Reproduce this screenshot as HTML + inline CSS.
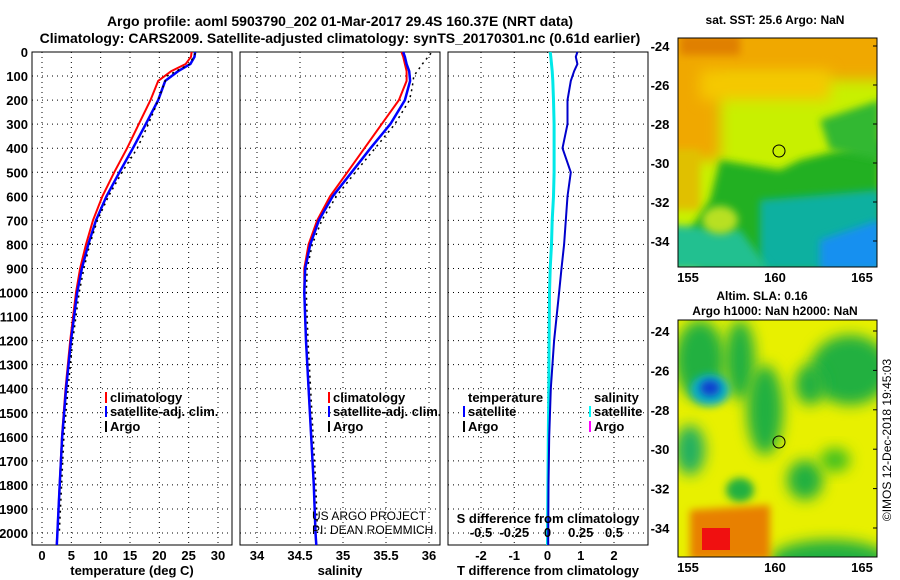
<!DOCTYPE html>
<html><head><meta charset="utf-8"><style>
html,body{margin:0;padding:0;background:#fff;}
svg{display:block;font-family:"Liberation Sans",sans-serif;}
text{font-weight:bold;font-size:13px;fill:#000;}
</style></head><body>
<svg id="svg" width="900" height="580" viewBox="0 0 900 580" xmlns="http://www.w3.org/2000/svg">
<defs>
<filter id="bl" x="-50%" y="-50%" width="200%" height="200%"><feGaussianBlur stdDeviation="7"/></filter>
<filter id="bl2" x="-50%" y="-50%" width="200%" height="200%"><feGaussianBlur stdDeviation="4"/></filter>
<clipPath id="c1"><rect x="678" y="38" width="199" height="229"/></clipPath>
<clipPath id="c2"><rect x="678" y="320" width="199" height="237"/></clipPath>
</defs>
<text x="340" y="26" text-anchor="middle" style="font-size:14px">Argo profile: aoml 5903790_202 01-Mar-2017 29.4S 160.37E (NRT data)</text>
<text x="340" y="43" text-anchor="middle" style="font-size:14px">Climatology: CARS2009. Satellite-adjusted climatology: synTS_20170301.nc (0.61d earlier)</text>

<g clip-path="url(#c1)">
<rect x="678" y="38" width="199" height="229" fill="#c8f000"/>
<rect x="660" y="20" width="240" height="60" fill="#f0a800" filter="url(#bl)"/>
<rect x="660" y="30" width="60" height="130" fill="#f0a800" filter="url(#bl)"/>
<rect x="700" y="70" width="130" height="30" fill="#f5c800" filter="url(#bl)"/>
<rect x="680" y="35" width="60" height="20" fill="#e08000" filter="url(#bl2)"/>
<rect x="660" y="150" width="40" height="60" fill="#e0c000" filter="url(#bl2)"/>
<path d="M720 160 L780 170 L800 160 L840 150 L880 140 L880 270 L700 270 L690 230 L710 200 Z" fill="#20b020" filter="url(#bl2)"/>
<path d="M820 120 L880 100 L880 160 L830 150 Z" fill="#30b830" filter="url(#bl2)"/>
<path d="M760 200 L880 190 L880 270 L760 270 Z" fill="#10b0a0" filter="url(#bl2)"/>
<path d="M670 225 L740 230 L770 270 L670 270 Z" fill="#20c090" filter="url(#bl2)"/>
<path d="M820 240 L880 220 L880 270 L820 270 Z" fill="#1890f0" filter="url(#bl2)"/>
<ellipse cx="720" cy="220" rx="18" ry="14" fill="#b8e020" filter="url(#bl2)"/>
</g>
<rect x="678" y="38" width="199" height="229" fill="none" stroke="#000"/>
<circle cx="779" cy="151" r="6" fill="none" stroke="#000"/>
<text x="775" y="24" text-anchor="middle" style="font-size:12px">sat. SST: 25.6 Argo: NaN</text>

<g clip-path="url(#c2)">
<rect x="678" y="320" width="199" height="237" fill="#e8f000"/>
<ellipse cx="700" cy="360" rx="25" ry="40" fill="#20b040" filter="url(#bl)"/>
<ellipse cx="740" cy="360" rx="15" ry="40" fill="#20b040" filter="url(#bl)"/>
<ellipse cx="710" cy="390" rx="20" ry="16" fill="#10b0c0" filter="url(#bl2)"/>
<ellipse cx="710" cy="388" rx="10" ry="8" fill="#1040d0" filter="url(#bl2)"/>
<ellipse cx="765" cy="410" rx="18" ry="45" fill="#20b040" filter="url(#bl)"/>
<ellipse cx="850" cy="370" rx="40" ry="35" fill="#20b040" filter="url(#bl)"/>
<ellipse cx="810" cy="385" rx="15" ry="20" fill="#20b040" filter="url(#bl)"/>
<ellipse cx="805" cy="480" rx="18" ry="20" fill="#20b040" filter="url(#bl)"/>
<ellipse cx="835" cy="460" rx="15" ry="12" fill="#40c020" filter="url(#bl)"/>
<ellipse cx="740" cy="490" rx="14" ry="12" fill="#20b040" filter="url(#bl2)"/>
<ellipse cx="690" cy="450" rx="15" ry="25" fill="#20b060" filter="url(#bl)"/>
<ellipse cx="830" cy="560" rx="60" ry="20" fill="#20b040" filter="url(#bl)"/>
<path d="M690 510 L770 505 L770 560 L690 560 Z" fill="#e88000" filter="url(#bl2)"/>
<rect x="702" y="528" width="28" height="22" fill="#f01010"/>
</g>
<rect x="678" y="320" width="199" height="237" fill="none" stroke="#000"/>
<circle cx="779" cy="442" r="6" fill="none" stroke="#000"/>
<text x="762" y="300" text-anchor="middle" style="font-size:12px">Altim. SLA: 0.16</text>
<text x="775" y="315" text-anchor="middle" style="font-size:12px">Argo h1000: NaN h2000: NaN</text>
<text transform="translate(891,440) rotate(-90)" text-anchor="middle" style="font-weight:normal;font-size:12px">©IMOS 12-Dec-2018 19:45:03</text>
<g id="g"></g>
</svg>
<script>
// ---- data ----
const depthTicks=[0,100,200,300,400,500,600,700,800,900,1000,1100,1200,1300,1400,1500,1600,1700,1800,1900,2000];
const tempTicks=[0,5,10,15,20,25,30];
const salTicks=[34,34.5,35,35.5,36];
const tdiffTicks=[-2,-1,0,1,2];
const sdiffTicks=[-0.5,-0.25,0,0.25,0.5];
const sdiffTickLabels=['-0.5','-0.25','0','0.25','0.5'];
const depths=[0,20,50,80,120,200,300,400,500,600,700,800,900,1000,1200,1400,1600,1800,2000,2050];
const tempClim=[25.5,25.4,24.5,22,19.8,18.5,16.5,14.5,12.3,10.3,8.7,7.5,6.5,5.8,4.8,4.0,3.4,3.0,2.6,2.5];
const tempSat=[26.1,26,25.3,23.2,21,19.8,17.7,15.5,13.2,11.0,9.2,7.9,6.8,6.0,4.95,4.1,3.45,3.02,2.62,2.52];
const argoDepths=[5,50,100,150,200,300,400,500,600,700,800,900,1000,1200,1400,1600,1800,2000];
const tempArgo=[25.8,24.8,21,20.2,19.5,17.8,15.9,13.3,11.0,9.1,7.8,6.8,6.0,4.9,4.1,3.4,3.0,2.6];
const salClim=[35.68,35.7,35.72,35.74,35.74,35.65,35.45,35.25,35.05,34.85,34.7,34.6,34.55,34.55,34.57,34.6,34.63,34.66,34.68,34.69];
const salSat=[35.7,35.72,35.74,35.77,35.78,35.72,35.55,35.32,35.1,34.88,34.72,34.62,34.56,34.55,34.57,34.6,34.63,34.66,34.68,34.69];
const salArgo=[36.0,35.9,35.8,35.78,35.75,35.58,35.35,35.12,34.9,34.73,34.62,34.56,34.55,34.57,34.6,34.63,34.66,34.68];
const tdiffSat=[0.9,0.85,0.9,0.8,0.7,0.6,0.6,0.45,0.7,0.6,0.55,0.5,0.42,0.35,0.2,0.1,0.05,0.03,0.02,0.02];
const sdiffSat=[0.02,0.025,0.03,0.035,0.04,0.045,0.05,0.05,0.05,0.045,0.035,0.03,0.02,0.015,0.012,0.01,0.006,0.003,0.0,0.0];
const mapLats=[-24,-26,-28,-30,-32,-34];
const mapLons=[155,160,165];

const NS='http://www.w3.org/2000/svg';
const G=document.getElementById('g');
function mk(t,a,p){const e=document.createElementNS(NS,t);for(const k in a)e.setAttribute(k,a[k]);(p||G).appendChild(e);return e;}
const pTop=52,pBot=545;
const yD=d=>pTop+d*0.2405;
function lin(d0,d1,r0,r1){return v=>r0+(v-d0)*(r1-r0)/(d1-d0);}
const panels=[
 {x0:32,x1:232,sx:lin(0,30,42,218),ticks:tempTicks,labels:tempTicks.map(String),title:'temperature (deg C)',name:'temperature-panel'},
 {x0:240,x1:440,sx:lin(34,36,257,429),ticks:salTicks,labels:salTicks.map(String),title:'salinity',name:'salinity-panel'},
 {x0:448,x1:648,sx:lin(-2,2,481,614),ticks:tdiffTicks,labels:tdiffTicks.map(String),title:'T difference from climatology',name:'difference-panel'}
];
function poly(xs,ys,col,w,dash,name){
  const pts=xs.map((v,i)=>v.toFixed(1)+','+ys[i].toFixed(1)).join(' ');
  const e=mk('polyline',{points:pts,fill:'none',stroke:col,'stroke-width':w});
  if(dash)e.setAttribute('stroke-dasharray',dash);
  
  
}
panels.forEach((p,pi)=>{
  const g=mk('g',{});
  
  
  depthTicks.forEach(d=>{
    const y=yD(d);
    const l=mk('line',{x1:p.x0,x2:p.x1,y1:y,y2:y,stroke:'#000','stroke-dasharray':'1,4'},g);
    
    
    if(pi===0){const t=mk('text',{x:28,y:y+5,'text-anchor':'end'},g);t.textContent=d;
      
      }
  });
  p.ticks.forEach((v,i)=>{
    const x=p.sx(v);
    const l=mk('line',{x1:x,x2:x,y1:pTop,y2:pBot,stroke:'#000','stroke-dasharray':'1,4'},g);
    
    
    const t=mk('text',{x:x,y:pBot+15,'text-anchor':'middle'},g);t.textContent=p.labels[i];
    
    
  });
  const r=mk('rect',{x:p.x0,y:pTop,width:p.x1-p.x0,height:pBot-pTop,fill:'none',stroke:'#000'},g);
  
  
  const t=mk('text',{x:(p.x0+p.x1)/2,y:575,'text-anchor':'middle'},g);t.textContent=p.title;
  
  
});
const ys=depths.map(yD), ya=argoDepths.map(yD);
const P0=panels[0],P1=panels[1],P2=panels[2];
poly(tempClim.map(P0.sx),ys,'#f00',2,null,'temperature-climatology-line');
poly(tempSat.map(P0.sx),ys,'#00f',2.5,null,'temperature-satellite-line');
poly(tempArgo.map(v=>P0.sx(v)+2),ya,'#000',1.5,'2,4','temperature-argo-line');
poly(salClim.map(P1.sx),ys,'#f00',2,null,'salinity-climatology-line');
poly(salSat.map(P1.sx),ys,'#00f',2.5,null,'salinity-satellite-line');
poly(salArgo.map(v=>P1.sx(v)+2),ya,'#000',1.5,'2,4','salinity-argo-line');
const sS=lin(-0.5,0.5,481,614);
poly(sdiffSat.map(sS),ys,'#00e8e8',3,null,'salinity-difference-line');
poly(tdiffSat.map(P2.sx),ys,'#00c',2,null,'temperature-difference-line');
sdiffTicks.forEach((v,i)=>{const t=mk('text',{x:sS(v),y:537,'text-anchor':'middle'});t.textContent=sdiffTickLabels[i];
  
  });
function txt(x,y,s,name,extra){const t=mk('text',Object.assign({x:x,y:y},extra||{}));t.textContent=s;
  
  return t;}
txt(548,523,'S difference from climatology','s-diff-axis-title',{'text-anchor':'middle'});
function leg(x,y,col,s,name){const l=mk('rect',{x:x-5,y:y-10,width:2,height:11,fill:col});
  
  
  txt(x,y,s,name);}
leg(110,402,'#f00','climatology','legend-temp-climatology');
leg(110,416,'#00f','satellite-adj. clim.','legend-temp-satellite');
leg(110,431,'#000','Argo','legend-temp-argo');
leg(333,402,'#f00','climatology','legend-sal-climatology');
leg(333,416,'#00f','satellite-adj. clim.','legend-sal-satellite');
leg(333,431,'#000','Argo','legend-sal-argo');
txt(468,402,'temperature','legend-diff-temperature-heading');
leg(468,416,'#00f','satellite','legend-diff-temp-satellite');
leg(468,431,'#000','Argo','legend-diff-temp-argo');
txt(594,402,'salinity','legend-diff-salinity-heading');
leg(594,416,'#0ff','satellite','legend-diff-sal-satellite');
leg(594,431,'#f0f','Argo','legend-diff-sal-argo');
const t1=txt(312,520,'US ARGO PROJECT','project-credit');t1.style.fontWeight='normal';t1.style.fontSize='12px';
const t2=txt(312,534,'PI: DEAN ROEMMICH','pi-credit');t2.style.fontWeight='normal';t2.style.fontSize='12px';
// map axes
[[38,267,46,19.5,'sst'],[320,557,331,19.7,'sla']].forEach(m=>{
  mapLats.forEach(la=>{const y=m[2]+(-24-la)*m[3];
    const tk=mk('line',{x1:873,x2:877,y1:y,y2:y,stroke:'#000'});
    
    
    txt(660,y+5,String(la),m[4]+'-lat-label',{'text-anchor':'middle'});});
  mapLons.forEach(lo=>{const x=688+(lo-155)*17.4;
    txt(x,m[1]+15,String(lo),m[4]+'-lon-label',{'text-anchor':'middle'});});
});
</script>
</body></html>
